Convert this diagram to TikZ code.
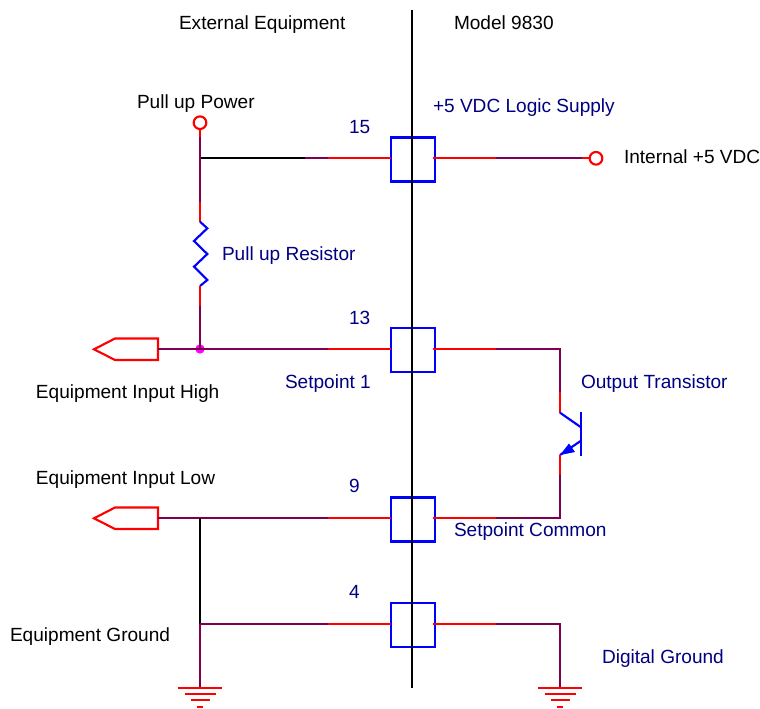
\documentclass[tikz,border=0pt]{standalone}
\usepackage{fontspec}
\setmainfont{Liberation Sans}
\definecolor{wirered}{RGB}{255,0,0}
\definecolor{wiredark}{RGB}{128,0,80}
\definecolor{partblue}{RGB}{0,0,255}
\definecolor{labelnavy}{RGB}{0,0,128}
\definecolor{dotmag}{RGB}{255,0,255}
\tikzset{
  x=0.75pt,y=-0.75pt,
  lbl/.style={anchor=base west,inner sep=0pt,outer sep=0pt,font=\fontsize{14.3}{17}\selectfont,text=black,yshift=-1.2pt},
  lblnavy/.style={lbl,text=labelnavy},
  rw/.style={draw=wirered,line width=1.6pt},
  dw/.style={draw=wiredark,line width=1.6pt},
  kw/.style={draw=black,line width=1.6pt},
  part/.style={draw=partblue,line width=1.6pt},
  pinbox/.style={rectangle,draw=partblue,line width=1.6pt,minimum width=33pt,minimum height=33pt,inner sep=0pt,outer sep=0pt},
  term/.style={circle,draw=wirered,fill=white,line width=1.6pt,minimum size=9.5pt,inner sep=0pt,outer sep=0pt},
  plug/.style={draw=wirered,line width=1.6pt,line join=miter},
  gnd/.style={draw=wirered,line width=1.6pt},
}
\begin{document}
\begin{tikzpicture}
\useasboundingbox (0,0) rectangle (760,708);
% pin boxes
\node[pinbox] (b15) at (413,159.5) {};
\node[pinbox] (b13) at (413,350) {};
\node[pinbox] (b9) at (413,519.5) {};
\node[pinbox] (b4) at (413,625) {};
% partition
\coordinate (top) at (412,10);
\coordinate (bot) at (412,688);
\draw[kw] (top) -- (bot);
% terminals
\node[term] (pwr) at (200,122.7) {};
\node[term] (int) at (596,158.3) {};
% --- top wire
\coordinate (j15) at (200,158.3);
\coordinate (a1) at (305,158.3);
\coordinate (a2) at (328,158.3);
\coordinate (a3) at (391,158.3);
\coordinate (a4) at (433,158.3);
\coordinate (a5) at (495.5,158.3);
\draw[kw] (j15) -- (a1);
\draw[dw] (a1) -- (a2);
\draw[rw] (a2) -- (a3);
\draw[rw] (a4) -- (a5);
\draw[dw] (a5) -- (582,158.3) coordinate (a6);
\draw[rw] (a6) -- (int);
% --- pull-up vertical
\coordinate (v1) at (200,137);
\coordinate (v2) at (200,202);
\coordinate (r1) at (200,221.7);
\coordinate (r2) at (200,286);
\coordinate (v3) at (200,306);
\node[circle,fill=dotmag,minimum size=7pt,inner sep=0pt] (dot) at (200,349) {};
\draw[rw] (pwr) -- (v1);
\draw[dw] (v1) -- (v2);
\draw[rw] (v2) -- (r1);
\draw[part,line join=miter] (r1) -- (207.3,228.3) -- (194,241) -- (207.3,254) -- (194,266.7) -- (207.3,280) -- (r2);
\draw[rw] (r2) -- (v3);
\draw[dw] (v3) -- (dot.center);
% --- wire 13
\coordinate (p13) at (158,349.3);
\coordinate (c1) at (328,349.3);
\coordinate (c2) at (391,349.3);
\coordinate (c3) at (433,349.3);
\coordinate (c4) at (495.5,349.3);
\coordinate (c5) at (560,349.3);
\coordinate (q1) at (560,392);
\coordinate (qc) at (560,412.7);
\draw[plug] (94,349.3) -- (115,338.5) -- (158,338.5) -- (158,360) -- (115,360) -- cycle;
\draw[dw] (p13) -- (c1);
\draw[rw] (c1) -- (c2);
\draw[rw] (c3) -- (c4);
\draw[dw] (c4) -- (c5) -- (q1);
\draw[rw] (q1) -- (qc);
% transistor
\coordinate (qe) at (560,455);
\draw[part] (581,412.3) -- (581,455.7);
\draw[part] (qc) -- (581,427.3);
\draw[part] (581,440.7) -- (qe);
\fill[partblue] (qe) -- (575,452) -- (569,443.5) -- cycle;
% --- wire 9
\coordinate (p9) at (158,518.3);
\coordinate (d1) at (328,518.3);
\coordinate (d2) at (391,518.3);
\coordinate (d3) at (433,518.3);
\coordinate (d4) at (495.5,518.3);
\coordinate (d5) at (560,518.3);
\coordinate (q2) at (560,475);
\coordinate (j9) at (200,518.3);
\draw[plug] (94,518.3) -- (115,507.5) -- (158,507.5) -- (158,529) -- (115,529) -- cycle;
\draw[dw] (p9) -- (d1);
\draw[rw] (d1) -- (d2);
\draw[rw] (d3) -- (d4);
\draw[dw] (d4) -- (d5) -- (q2);
\draw[rw] (q2) -- (qe);
% --- wire 4
\coordinate (j4) at (200,624.3);
\coordinate (e1) at (328,624.3);
\coordinate (e2) at (391,624.3);
\coordinate (e3) at (433,624.3);
\coordinate (e4) at (495.5,624.3);
\coordinate (e5) at (560,624.3);
\coordinate (g1) at (200,687.7);
\coordinate (g2) at (560,687.7);
\draw[kw] (j9) -- (j4);
\draw[dw] (j4) -- (e1);
\draw[rw] (e1) -- (e2);
\draw[dw] (j4) -- (g1);
\draw[rw] (e3) -- (e4);
\draw[dw] (e4) -- (e5) -- (g2);
% grounds
\foreach \c in {g1,g2}{
  \draw[gnd] ([shift={(-22,0)}]\c) -- ([shift={(22,0)}]\c);
  \draw[gnd] ([shift={(-15.5,6.3)}]\c) -- ([shift={(15.5,6.3)}]\c);
  \draw[gnd] ([shift={(-9.5,12.6)}]\c) -- ([shift={(9.5,12.6)}]\c);
  \draw[gnd] ([shift={(-3.3,18.9)}]\c) -- ([shift={(3.3,18.9)}]\c);
}
% labels
\node[lbl] (t1) at (179,28) {External Equipment};
\node[lbl] (t2) at (454,28) {Model 9830};
\node[lbl] (t3) at (137,107) {Pull up Power};
\node[lblnavy] (t4) at (349,132) {15};
\node[lblnavy] (t5) at (433,111) {+5 VDC Logic Supply};
\node[lbl] (t6) at (624,162) {Internal +5 VDC};
\node[lblnavy] (t7) at (222,259) {Pull up Resistor};
\node[lblnavy] (t8) at (349,323) {13};
\node[lbl] (t9) at (36,397) {Equipment Input High};
\node[lblnavy] (t10) at (285,387) {Setpoint 1};
\node[lblnavy] (t11) at (581,387) {Output Transistor};
\node[lbl] (t12) at (36,483) {Equipment Input Low};
\node[lblnavy] (t13) at (349,491) {9};
\node[lblnavy] (t14) at (454,535) {Setpoint Common};
\node[lblnavy] (t15) at (349,597) {4};
\node[lbl] (t16) at (10,640) {Equipment Ground};
\node[lblnavy] (t17) at (602,662) {Digital Ground};
\end{tikzpicture}
\end{document}
